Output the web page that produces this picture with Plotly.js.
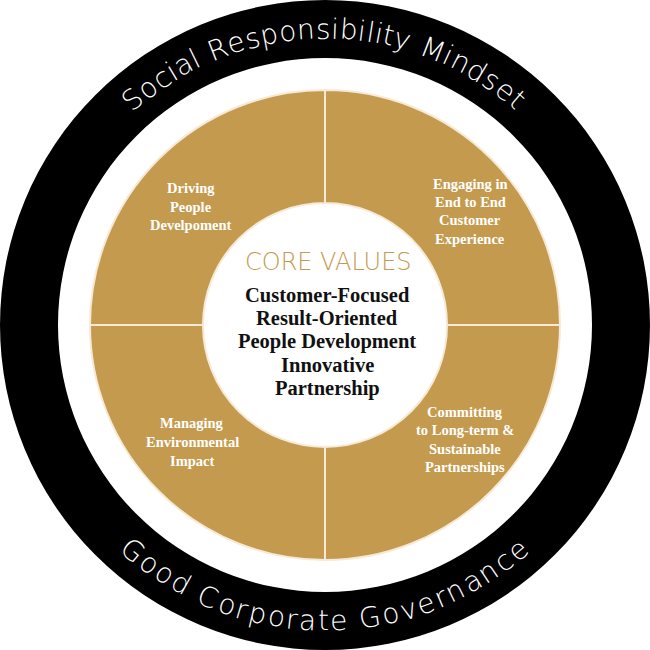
<!DOCTYPE html>
<html>
<head>
<meta charset="utf-8">
<script src="https://cdn.plot.ly/plotly-3.0.1.min.js"></script>
<style>html,body{margin:0;padding:0;background:#fff;}#chart{width:650px;height:650px;}</style>
</head>
<body>
<div id="chart"></div>
<script>
// ---- data ----
var ringLabels = ["Outer ring"];
var ringValues = [1];
var quadrantLabels = ["Engaging in End to End Customer Experience", "Committing to Long-term & Sustainable Partnerships", "Managing Environmental Impact", "Driving People Develpoment"];
var quadrantValues = [1, 1, 1, 1];
var topArcText = "Social Responsibility Mindset";
var bottomArcText = "Good Corporate Governance";
var coreTitle = "CORE VALUES";
var coreValues = ["Customer-Focused", "Result-Oriented", "People Development", "Innovative", "Partnership"];
var qTopLeft = ["Driving", "People", "Develpoment"];
var qTopRight = ["Engaging in", "End to End", "Customer", "Experience"];
var qBottomLeft = ["Managing", "Environmental", "Impact"];
var qBottomRight = ["Committing", "to Long-term &", "Sustainable", "Partnerships"];

// ---- style / layout constants ----
var W = 650, H = 650, CX = 325, CY = 325;
var R_OUT = 325, R_BLACK_IN = 267, R_GOLD = 235, R_CORE = 122;
var GOLD = "#C49A4E";
var ARC_R = 296, ARC_HALF = 40.5, ARC_FONT = 28;
var arcFamily = '"DejaVu Sans", sans-serif';
var serif = '"Liberation Serif", "Times New Roman", serif';

function px(x){ return x / W; }
function py(y){ return 1 - y / H; }

var annotations = [];
function addText(t, x, y, size, color, family, weight, angle){
  annotations.push({text: t, x: px(x), y: py(y), xref: "paper", yref: "paper",
    xanchor: "center", yanchor: "middle", showarrow: false, textangle: angle || 0,
    font: {size: size, color: color, family: family, weight: weight}});
}

// arc text
var cv = document.createElement("canvas").getContext("2d");
cv.font = "200 " + ARC_FONT + "px " + arcFamily;
function arcText(str, top){
  var chars = str.split("");
  var widths = chars.map(function(c){ return cv.measureText(c).width; });
  var centers = [], acc = 0;
  widths.forEach(function(w){ centers.push(acc + w/2); acc += w; });
  var s0 = centers[0], s1 = centers[centers.length-1];
  chars.forEach(function(c, i){
    if (c === " ") return;
    var a = -ARC_HALF + 2*ARC_HALF*(centers[i]-s0)/(s1-s0);
    var rad = a*Math.PI/180;
    var x, y, rot;
    if (top){ x = CX + ARC_R*Math.sin(rad); y = CY - ARC_R*Math.cos(rad); rot = a; }
    else { x = CX + ARC_R*Math.sin(rad); y = CY + ARC_R*Math.cos(rad); rot = -a; }
    addText(c, x, y, ARC_FONT, "#ffffff", arcFamily, 200, rot);
  });
}
arcText(topArcText, true);
arcText(bottomArcText, false);

// quadrant texts
function block(lines, x, ys, size){
  lines.forEach(function(l, i){ addText(l, x, ys[i], size, "#ffffff", serif, 700); });
}
var QF = 14.5;
block(qTopLeft, 191, [188, 207, 225], QF);
block(qTopRight, 470, [184, 202, 220, 239], QF);
block(qBottomLeft, 192, [423, 442, 461], QF);
block(qBottomRight, 465, [412, 430, 449, 467], QF);

// core
addText(coreTitle, 328, 262, 24, GOLD, arcFamily, 200);
var coreYs = [295, 318, 341, 365, 388];
coreValues.forEach(function(l, i){ addText(l, 327, coreYs[i], 20.5, "#111111", serif, 700); });

var traces = [
  {type: "pie", labels: ringLabels, values: ringValues, hole: R_BLACK_IN/R_OUT, sort: false,
   domain: {x: [px(CX-R_OUT), px(CX+R_OUT)], y: [1-px(CY+R_OUT), 1-px(CY-R_OUT)]},
   marker: {colors: ["#000000"], line: {width: 0}}, textinfo: "none", hoverinfo: "skip"},
  {type: "pie", labels: quadrantLabels, values: quadrantValues, hole: R_CORE/R_GOLD, sort: false,
   direction: "clockwise", rotation: 0,
   domain: {x: [px(CX-R_GOLD), px(CX+R_GOLD)], y: [1-px(CY+R_GOLD), 1-px(CY-R_GOLD)]},
   marker: {colors: [GOLD, GOLD, GOLD, GOLD], line: {color: "#f6ead6", width: 2}}, textinfo: "none", hoverinfo: "skip"}
];

var layout = {width: W, height: H, margin: {l:0, r:0, t:0, b:0}, showlegend: false,
  paper_bgcolor: "#ffffff", plot_bgcolor: "#ffffff", annotations: annotations};

Plotly.newPlot("chart", traces, layout, {staticPlot: true, displayModeBar: false});
</script>
</body>
</html>
